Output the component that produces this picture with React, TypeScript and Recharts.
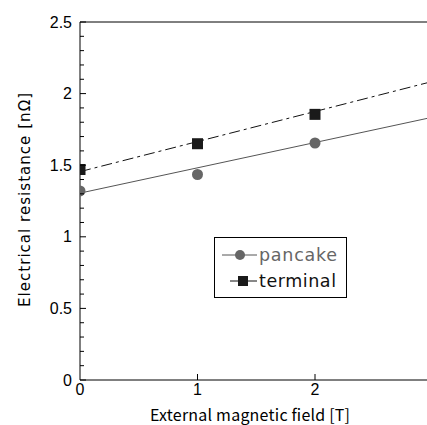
import React from 'react';
import { ComposedChart, Line, Scatter, XAxis, YAxis, ReferenceLine, Legend, Label } from 'recharts';

const fieldValues = [0, 1, 2];
const pancakeValues = [1.32, 1.435, 1.655];
const terminalValues = [1.47, 1.65, 1.855];
const fitFields = [0, 3];
const pancakeFit = [1.305, 1.835];
const terminalFit = [1.455, 2.085];
const xTicks = [0, 1, 2];
const yTicks = [0, 0.1, 0.2, 0.3, 0.4, 0.5, 0.6, 0.7, 0.8, 0.9, 1, 1.1, 1.2, 1.3, 1.4, 1.5, 1.6, 1.7, 1.8, 1.9, 2, 2.1, 2.2, 2.3, 2.4, 2.5];
const yLabelTicks = [0, 0.5, 1, 1.5, 2, 2.5];
const seriesNames = ['pancake', 'terminal'];
const xTitle = 'External magnetic field [T]';
const yTitle = 'Electrical resistance [nΩ]';

const pancakeData = fieldValues.map((x, i) => ({ x, y: pancakeValues[i] }));
const terminalData = fieldValues.map((x, i) => ({ x, y: terminalValues[i] }));
const pancakeFitData = fitFields.map((x, i) => ({ x, y: pancakeFit[i] }));
const terminalFitData = fitFields.map((x, i) => ({ x, y: terminalFit[i] }));

const W = 427;
const H = 425;
const PLOT_LEFT = 80;
const PLOT_TOP = 22;
const PLOT_BOTTOM = 380;
const X_MAX = (W - PLOT_LEFT) / 117.5;

const tickFont = '"Liberation Sans", Arial, sans-serif';
const jpFont = '"Noto Sans CJK JP", "Liberation Sans", sans-serif';
const wideFont = '"DejaVu Sans", "Liberation Sans", sans-serif';

const YTick = (props: any) => {
  const { y, payload } = props;
  const v = payload.value;
  const major = yLabelTicks.some((t) => Math.abs(t - v) < 1e-6);
  return (
    <g>
      <line x1={PLOT_LEFT} x2={PLOT_LEFT + (major ? 6 : 4)} y1={y} y2={y} stroke="#000" strokeWidth={1} />
      {major && (
        <text x={PLOT_LEFT - 8} y={y} textAnchor="end" dominantBaseline="central" fontSize={16} fontFamily={tickFont} fill="#000">
          {String(v)}
        </text>
      )}
    </g>
  );
};

const XTick = (props: any) => {
  const { x, payload } = props;
  const v = payload.value;
  return (
    <g>
      {v !== 0 && <line x1={x} x2={x} y1={PLOT_BOTTOM} y2={PLOT_BOTTOM - 6} stroke="#000" strokeWidth={1} />}
      <text x={x} y={PLOT_BOTTOM + 15} textAnchor="middle" fontSize={16} fontFamily={tickFont} fill="#000">
        {String(v)}
      </text>
    </g>
  );
};

const Circle = (props: any) => <circle cx={props.cx} cy={props.cy} r={5.5} fill="#666" />;
const Square = (props: any) => <rect x={props.cx - 5.5} y={props.cy - 5.5} width={11} height={11} fill="#1a1a1a" />;

const LegendBox = () => (
  <svg width={133} height={61} style={{ display: 'block' }}>
    <rect x={0.5} y={0.5} width={132} height={60} fill="#fff" stroke="#000" strokeWidth={1} />
    <line x1={8} x2={43} y1={18} y2={18} stroke="#555" strokeWidth={1} />
    <circle cx={26} cy={18} r={5} fill="#666" />
    <text x={45} y={18} dominantBaseline="central" fontSize={17.5} fontFamily={wideFont} fill="#666" textLength={78} lengthAdjust="spacing">{seriesNames[0]}</text>
    <line x1={16} x2={43} y1={44} y2={44} stroke="#111" strokeWidth={1} />
    <rect x={24} y={39} width={10} height={10} fill="#1a1a1a" />
    <text x={45} y={44} dominantBaseline="central" fontSize={17.5} fontFamily={wideFont} fill="#111" textLength={77} lengthAdjust="spacing">{seriesNames[1]}</text>
  </svg>
);

export default function App() {
  return (
    <div style={{ position: 'fixed', left: 0, top: 0, width: W, height: H, background: '#fff' }}>
      <ComposedChart
        width={W}
        height={H}
        margin={{ top: PLOT_TOP, right: 0, bottom: H - PLOT_BOTTOM - 30, left: PLOT_LEFT - 60 }}
      >
        <XAxis
          type="number"
          dataKey="x"
          domain={[0, X_MAX]}
          allowDataOverflow
          ticks={xTicks}
          interval={0}
          tick={<XTick />}
          tickLine={false}
          height={30}
          axisLine={{ stroke: '#000', strokeWidth: 1 }}
        >
          <Label
            content={() => (
              <text x={250} y={421} textAnchor="middle" fontSize={16} fontFamily={jpFont} fill="#000" textLength={200} lengthAdjust="spacing">
                {xTitle}
              </text>
            )}
          />
        </XAxis>
        <YAxis
          type="number"
          dataKey="y"
          domain={[0, 2.5]}
          ticks={yTicks}
          interval={0}
          tick={<YTick />}
          tickLine={false}
          width={60}
          axisLine={{ stroke: '#000', strokeWidth: 1 }}
        >
          <Label
            content={() => (
              <text x={25} y={200} transform="rotate(-90 25 200)" textAnchor="middle" dominantBaseline="central" fontSize={15} fontFamily={wideFont} fill="#000" textLength={214} lengthAdjust="spacing">
                {yTitle}
              </text>
            )}
          />
        </YAxis>
        <ReferenceLine y={2.5} stroke="#000" strokeWidth={1} ifOverflow="extendDomain" />
        <Line data={pancakeFitData} dataKey="y" type="linear" stroke="#555" strokeWidth={1} dot={false} isAnimationActive={false} legendType="none" />
        <Line data={terminalFitData} dataKey="y" type="linear" stroke="#111" strokeWidth={1} strokeDasharray="11 4 3 4" dot={false} isAnimationActive={false} legendType="none" />
        <Scatter name={seriesNames[0]} data={pancakeData} dataKey="y" shape={<Circle />} isAnimationActive={false} />
        <Scatter name={seriesNames[1]} data={terminalData} dataKey="y" shape={<Square />} isAnimationActive={false} />
        <Legend
          layout="horizontal"
          verticalAlign="middle"
          align="center"
          content={() => <LegendBox />}
          wrapperStyle={{ position: 'absolute', left: 214, top: 237, width: 133, height: 61 }}
        />
      </ComposedChart>
    </div>
  );
}
